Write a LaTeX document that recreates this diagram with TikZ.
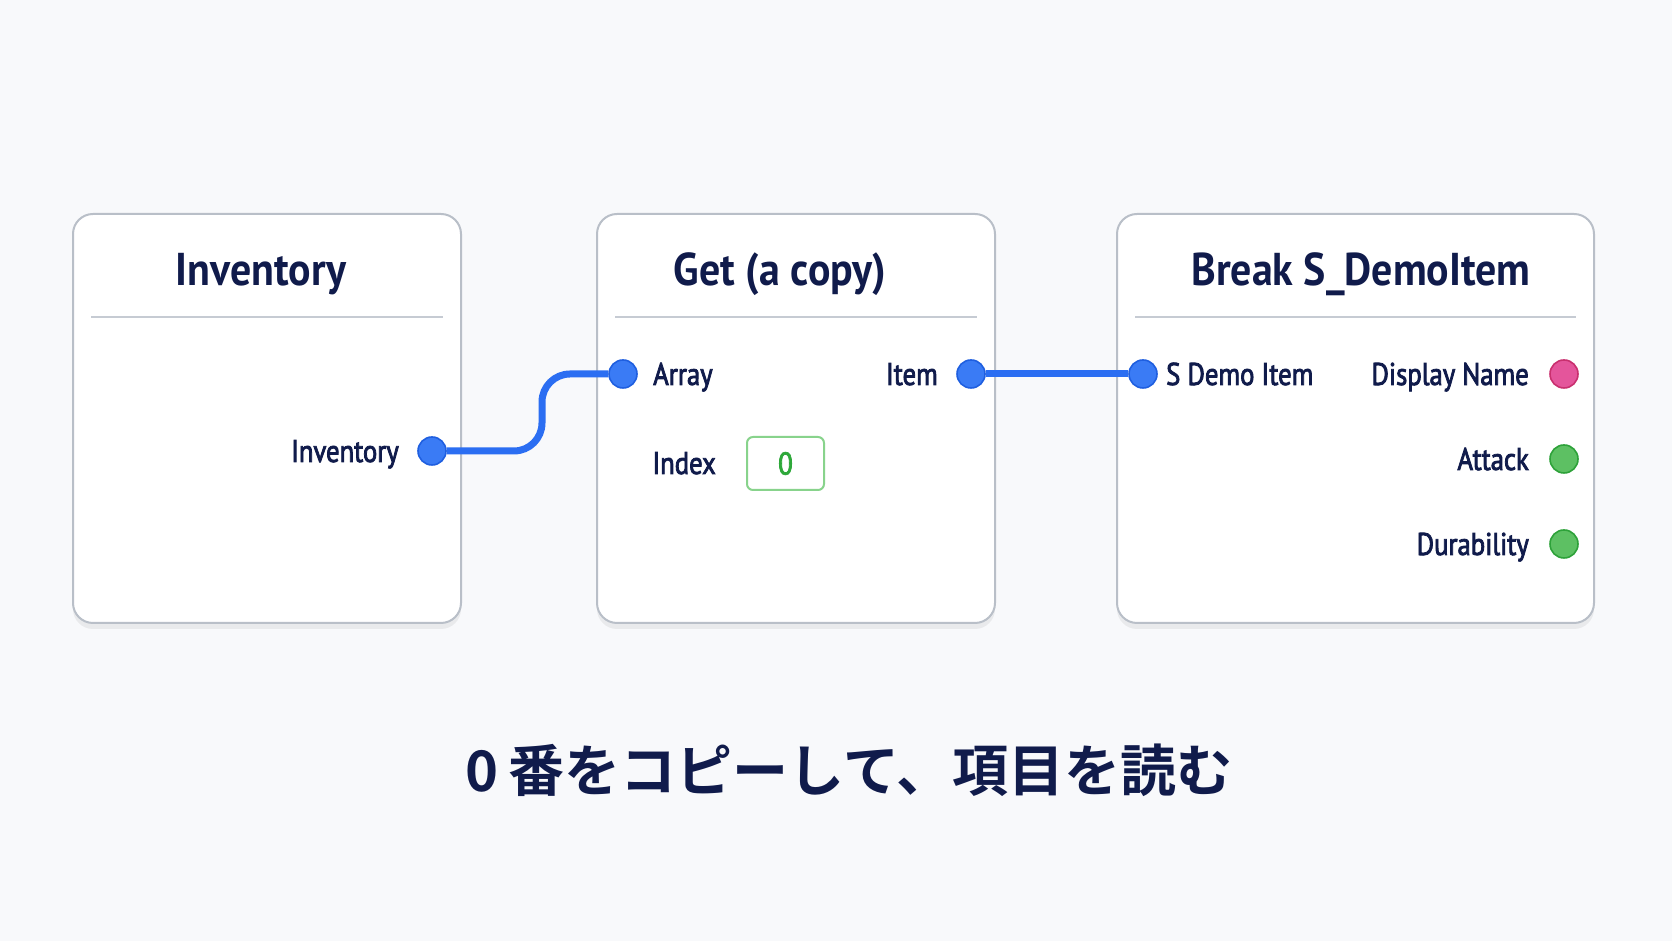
\documentclass[tikz,border=0pt]{standalone}
\usepackage{fontspec}
\setmainfont{PT Sans}[FakeStretch=0.86]
\newfontfamily\pinfont{PT Sans}[FakeStretch=0.85, RawFeature={embolden=2.5}]
\newfontfamily\headfont{PT Sans Bold}[FakeStretch=0.91]
\newfontfamily\jpfont{Noto Sans CJK JP}[BoldFont={* Bold}]
\usetikzlibrary{positioning,shadows}

\definecolor{ink}{HTML}{101B4B}
\definecolor{bgcol}{HTML}{F8F9FB}
\definecolor{frame}{HTML}{B9BFC8}
\definecolor{rulegray}{HTML}{C6CBD3}
\definecolor{wireblue}{HTML}{2B6EF2}
\definecolor{pinblue}{HTML}{3A7BF5}
\definecolor{pinblueb}{HTML}{1F5FE0}
\definecolor{pinpink}{HTML}{E4559B}
\definecolor{pinpinkb}{HTML}{C9306F}
\definecolor{pingreen}{HTML}{5DC063}
\definecolor{pingreenb}{HTML}{2EA23A}
\definecolor{valgreen}{HTML}{2EA83A}
\definecolor{valframe}{HTML}{88D38C}

\tikzset{
  card/.style={draw=frame, line width=1pt, fill=white, rounded corners=10pt,
    drop shadow={shadow xshift=0pt, shadow yshift=-3pt, opacity=0.12}},
  cardtitle/.style={font=\headfont\fontsize{23}{26}\selectfont, text=ink, anchor=base, inner sep=0pt},
  pin/.style={circle, minimum size=14pt, inner sep=0pt, line width=0.8pt, draw=pinblueb, fill=pinblue},
  pinpk/.style={pin, draw=pinpinkb, fill=pinpink},
  pingr/.style={pin, draw=pingreenb, fill=pingreen},
  pinlabel/.style={font=\pinfont\fontsize{15.7}{18}\selectfont, text=ink, inner sep=0pt, text height=11pt, text depth=0pt},
  wire/.style={draw=wireblue, line width=3.5pt, rounded corners=14pt}
}

\begin{document}
\begin{tikzpicture}[x=0.5pt,y=0.5pt]
  \fill[bgcol] (0,0) rectangle (1672,941);
  \useasboundingbox (0,0) rectangle (1672,941);

  % the three nodes of the graph
  \node[card, minimum width=194pt, minimum height=204.5pt] (n_inv) at (267,522.5) {};
  \node[card, minimum width=199pt, minimum height=204.5pt] (n_get) at (796,522.5) {};
  \node[card, minimum width=238.5pt, minimum height=204.5pt] (n_brk) at (1355.5,522.5) {};
  \foreach \n in {n_inv,n_get,n_brk}
    \draw[rulegray, line width=1pt] ([xshift=9.5pt,yshift=-52pt]\n.north west) -- ([xshift=-9.5pt,yshift=-52pt]\n.north east);

  \node[cardtitle] (t_inv) at (261,655) {Inventory};
  \node[cardtitle] (t_get) at (780,655) {Get (a copy)};
  \node[cardtitle] (t_brk) at (1361,655) {Break S\_DemoItem};

  % pins
  \node[pin] (p_inv) at (432,490) {};
  \node[pin] (p_arr) at (623,567) {};
  \node[pin] (p_item) at (971,567) {};
  \node[pin] (p_sdi) at (1143,567) {};
  \node[pinpk] (p_name) at (1564,567) {};
  \node[pingr] (p_atk) at (1564,482) {};
  \node[pingr] (p_dur) at (1564,397) {};

  \node[pinlabel] (l_inv) [left=9pt of p_inv] {Inventory};
  \node[pinlabel] (l_arr) [right=7.5pt of p_arr] {Array};
  \node[pinlabel] (l_item) [left=9pt of p_item] {Item};
  \node[pinlabel] (l_sdi) [right=4pt of p_sdi] {S Demo Item};
  \node[pinlabel] (l_name) [left=10pt of p_name] {Display Name};
  \node[pinlabel] (l_atk) [left=10pt of p_atk] {Attack};
  \node[pinlabel] (l_dur) [left=10pt of p_dur] {Durability};

  \node[pinlabel, anchor=west] (l_idx) at (652,478) {Index};
  \node[pinlabel, text=valgreen, draw=valframe, line width=1pt, rounded corners=3pt,
    minimum width=38.5pt, minimum height=26.5pt] (v_idx) at (785.5,477.5) {0};

  % wires
  \draw[wire] (p_inv) -- ++(55pt,0) |- (p_arr);
  \draw[wire] (p_item) -- (p_sdi);

  \node[font=\jpfont\bfseries\fontsize{28}{32}\selectfont, text=ink] (caption) at (849,171)
    {0\hspace{5pt}番をコピーして、項目を読む};
\end{tikzpicture}
\end{document}
